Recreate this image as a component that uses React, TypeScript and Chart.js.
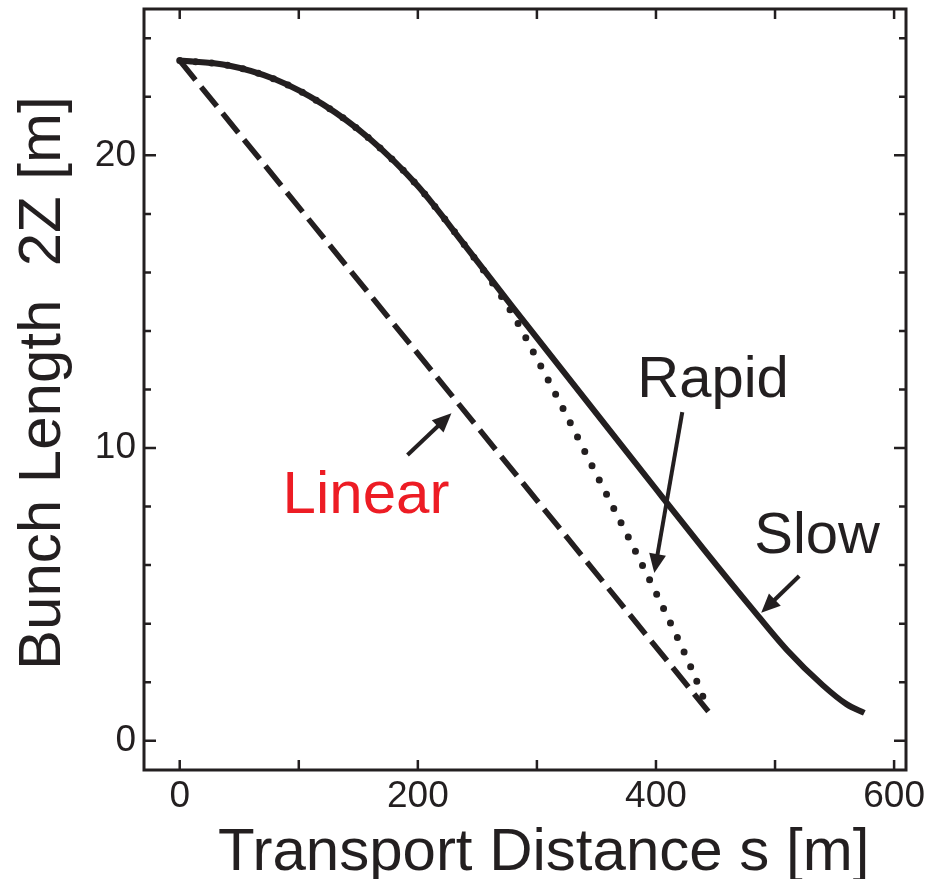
import { useEffect, useRef } from "react";
import { Chart, registerables } from "chart.js";

Chart.register(...registerables);

// ---- data ----
const slowS = [0, 40, 80, 120, 160, 200, 240, 280, 340, 400, 440, 480, 510, 540, 560, 575];
const slowZ = [23.24, 23.08, 22.6, 21.75, 20.55, 18.95, 16.9, 14.8, 11.7, 8.6, 6.55, 4.55, 3.1, 1.9, 1.25, 0.95];

const rapidS = [0, 40, 80, 120, 160, 200, 240, 260, 280, 300, 320, 340, 360, 380, 400, 420, 430, 440];
const rapidZ = [23.24, 23.08, 22.6, 21.75, 20.55, 18.95, 16.9, 15.8, 14.55, 13.05, 11.5, 9.9, 8.3, 6.7, 5.05, 3.35, 2.45, 1.45];

const linearS = [0, 444];
const linearZ = [23.24, 1.0];

const xTickValues = [0, 100, 200, 300, 400, 500, 600];
const xTickLabels = [0, 200, 400, 600];
const yTickValues = [0, 2, 4, 6, 8, 10, 12, 14, 16, 18, 20, 22, 24];
const yTickLabels = [0, 10, 20];

const xTitle = "Transport Distance s [m]";
const yTitle = "Bunch Length  2Z [m]";

// annotation labels and arrows (data coordinates)
const labelTexts = ["Linear", "Rapid", "Slow"];
const labelS = [86.4, 384.3, 482.5];
const labelZ = [7.78, 11.74, 6.42];
const arrowFromS = [191.3, 422.1, 520.3];
const arrowFromZ = [9.76, 11.23, 5.63];
const arrowToS = [228.2, 398.6, 488.4];
const arrowToZ = [11.19, 5.73, 4.37];

const BLACK = "#231f20";
const RED = "#ed1c24";
const FONT = "'Liberation Sans', Arial, Helvetica, sans-serif";

const toPts = (xs: number[], ys: number[]) => xs.map((x, i) => ({ x, y: ys[i] }));

const decorPlugin = {
  id: "decor",
  afterDraw(chart: any) {
    const ctx: CanvasRenderingContext2D = chart.ctx;
    const { left, right, top, bottom } = chart.chartArea;
    const xs = chart.scales.x;
    const ys = chart.scales.y;
    ctx.save();
    ctx.strokeStyle = BLACK;
    ctx.fillStyle = BLACK;
    // inward ticks on all four sides
    ctx.lineWidth = 2.5;
    ctx.lineCap = "butt";
    ctx.beginPath();
    for (const v of xTickValues) {
      const px = xs.getPixelForValue(v);
      ctx.moveTo(px, bottom);
      ctx.lineTo(px, bottom - 10);
      ctx.moveTo(px, top);
      ctx.lineTo(px, top + 10);
    }
    for (const v of yTickValues) {
      const py = ys.getPixelForValue(v);
      const len = yTickLabels.includes(v) ? 12 : 7;
      ctx.moveTo(left, py);
      ctx.lineTo(left + len, py);
      ctx.moveTo(right, py);
      ctx.lineTo(right - len, py);
    }
    ctx.stroke();
    // frame
    ctx.lineWidth = 3;
    ctx.strokeRect(left, top, right - left, bottom - top);

    // arrows
    ctx.lineWidth = 4;
    for (let i = 0; i < arrowFromS.length; i++) {
      const x1 = xs.getPixelForValue(arrowFromS[i]);
      const y1 = ys.getPixelForValue(arrowFromZ[i]);
      const x2 = xs.getPixelForValue(arrowToS[i]);
      const y2 = ys.getPixelForValue(arrowToZ[i]);
      const ang = Math.atan2(y2 - y1, x2 - x1);
      const hl = 19;
      const hw = 8.5;
      const bx = x2 - hl * Math.cos(ang);
      const by = y2 - hl * Math.sin(ang);
      ctx.beginPath();
      ctx.moveTo(x1, y1);
      ctx.lineTo(bx + 2 * Math.cos(ang), by + 2 * Math.sin(ang));
      ctx.stroke();
      ctx.beginPath();
      ctx.moveTo(x2, y2);
      ctx.lineTo(bx + hw * Math.sin(ang), by - hw * Math.cos(ang));
      ctx.lineTo(bx - hw * Math.sin(ang), by + hw * Math.cos(ang));
      ctx.closePath();
      ctx.fill();
    }

    // labels
    ctx.textAlign = "left";
    ctx.textBaseline = "alphabetic";
    for (let i = 0; i < labelTexts.length; i++) {
      ctx.fillStyle = i === 0 ? RED : BLACK;
      ctx.font = `${i === 0 ? 60 : 58}px ${FONT}`;
      ctx.fillText(labelTexts[i], xs.getPixelForValue(labelS[i]), ys.getPixelForValue(labelZ[i]));
    }

    // axis titles
    ctx.fillStyle = BLACK;
    ctx.font = `60px ${FONT}`;
    ctx.textAlign = "left";
    ctx.fillText(xTitle, 218, 870);
    ctx.translate(60, 670);
    ctx.rotate(-Math.PI / 2);
    ctx.fillText(yTitle, 0, 0);
    ctx.restore();
  },
};

export default function App() {
  const ref = useRef<HTMLCanvasElement | null>(null);
  useEffect(() => {
    if (!ref.current) return;
    const chart = new Chart(ref.current, {
      type: "line",
      data: {
        datasets: [
          {
            label: "Slow",
            data: toPts(slowS, slowZ),
            borderColor: BLACK,
            borderWidth: 6,
            pointRadius: 0,
            cubicInterpolationMode: "monotone",
            fill: false,
          },
          {
            label: "Rapid",
            data: toPts(rapidS, rapidZ),
            borderColor: BLACK,
            borderWidth: 7,
            borderDash: [0, 16],
            borderCapStyle: "round",
            pointRadius: 0,
            cubicInterpolationMode: "monotone",
            fill: false,
          },
          {
            label: "Linear",
            data: toPts(linearS, linearZ),
            borderColor: BLACK,
            borderWidth: 5.5,
            borderDash: [25, 9],
            borderCapStyle: "butt",
            pointRadius: 0,
            tension: 0,
            fill: false,
          },
        ],
      },
      options: {
        animation: false,
        responsive: false,
        devicePixelRatio: 1,
        layout: { padding: { top: 9, right: 22, left: 0, bottom: 0 } },
        plugins: { legend: { display: false }, tooltip: { enabled: false }, title: { display: false } },
        scales: {
          x: {
            type: "linear",
            min: -30,
            max: 610,
            grid: { display: false },
            border: { display: false },
            afterBuildTicks: (s: any) => {
              s.ticks = xTickValues.map((v) => ({ value: v }));
            },
            afterFit: (s: any) => {
              s.height = 109;
              s.paddingLeft = 0;
              s.paddingRight = 0;
            },
            ticks: {
              autoSkip: false,
              maxRotation: 0,
              padding: -3,
              color: BLACK,
              font: { family: FONT, size: 37 },
              callback: (v: any) => (xTickLabels.includes(Number(v)) ? String(v) : ""),
            },
          },
          y: {
            type: "linear",
            min: -1,
            max: 25,
            grid: { display: false },
            border: { display: false },
            afterBuildTicks: (s: any) => {
              s.ticks = yTickValues.map((v) => ({ value: v }));
            },
            afterFit: (s: any) => {
              s.width = 144;
              s.paddingTop = 0;
              s.paddingBottom = 0;
            },
            ticks: {
              autoSkip: false,
              padding: 0,
              color: BLACK,
              font: { family: FONT, size: 37 },
              callback: (v: any) => (yTickLabels.includes(Number(v)) ? String(v) : ""),
            },
          },
        },
      },
      plugins: [decorPlugin],
    });
    return () => chart.destroy();
  }, []);
  return (
    <div style={{ position: "fixed", left: 0, top: 0, width: 928, height: 879, background: "#fff" }}>
      <canvas ref={ref} width={928} height={879} style={{ display: "block" }} />
    </div>
  );
}
